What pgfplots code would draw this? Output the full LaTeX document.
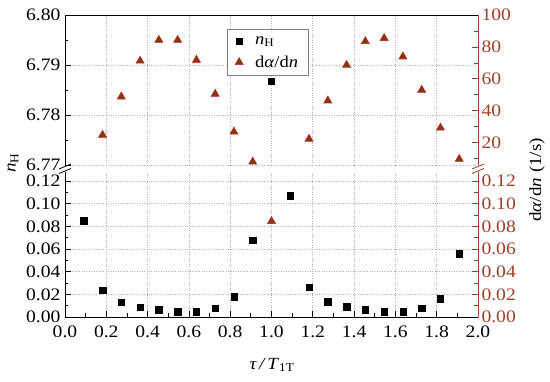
\documentclass[border=0pt]{standalone}
\usepackage{fontspec}
\setmainfont{Liberation Serif}[FakeStretch=1.12]
\usepackage{pgfplots}
\pgfplotsset{compat=1.18}
\definecolor{rax}{RGB}{160,64,40}
\definecolor{trifill}{RGB}{125,60,15}
\definecolor{triedge}{RGB}{200,30,25}
\begin{document}
\begin{tikzpicture}[x=1pt,y=1pt]
\useasboundingbox (0,0) rectangle (550,382);
\pgfplotsset{
  base/.style={scale only axis, width=413pt, xmin=0, xmax=2, axis line style={draw=none},
    tick align=inside, major tick length=6pt, minor tick length=3.5pt,
    tick style={black, line width=0.7pt},
    /pgf/number format/assume math mode=true,
    ticklabel style={font=\fontsize{17.5}{17.5}\selectfont},
    grid style={dotted, gray!60, line width=0.7pt}},
  sq/.style={only marks, mark=square*, mark size=3.2pt, black},
  tri/.style={only marks, mark=triangle*, mark size=4.6pt, mark options={draw=triedge, fill=trifill, line width=0.6pt}},
}
% ---------- top left ----------
\begin{axis}[base, name=TL, at={(65pt,217pt)}, anchor=south west, height=150pt,
  ymin=6.77, ymax=6.80, ytick={6.77,6.78,6.79,6.80}, minor ytick={6.775,6.785,6.795}, ytick pos=left,
  yticklabel style={xshift=-1pt, /pgf/number format/.cd, fixed, fixed zerofill, precision=2},
  xtick={0,0.2,0.4,0.6,0.8,1,1.2,1.4,1.6,1.8,2}, xticklabels={}, major x tick style={draw=none},
  xmajorgrids, ymajorgrids,
  legend style={at={(0.392,0.905)}, anchor=north west, draw=gray, line width=0.6pt,
    font=\fontsize{16.5}{18}\selectfont, inner xsep=8pt, inner ysep=5pt, row sep=6pt},
  legend cell align=left]
\addplot[sq] coordinates {(1.0,6.7867)};
\addlegendentry{\hspace{10pt}\textit{n}\textsubscript{H}}
\addlegendimage{tri}
\addlegendentry{\hspace{10pt}d\textit{α}/d\textit{n}\hspace{16pt}}
\end{axis}
% ---------- top right ----------
\begin{axis}[base, at={(65pt,217pt)}, anchor=south west, height=150pt,
  ymin=6, ymax=100, ytick={20,40,60,80,100}, minor ytick={10,30,50,70,90}, ytick pos=right,
  yticklabel style={text=rax}, xtick=\empty,
  major y tick style={rax}, minor y tick style={rax}]
\addplot[tri] coordinates {(0.1818,24.8) (0.2727,48.8) (0.3636,71.3) (0.4545,84.3) (0.5455,84.3)
 (0.6364,71.8) (0.7273,50.5) (0.8182,26.8) (0.9091,8.0) (1.1818,22.3) (1.2727,46.3) (1.3636,68.7)
 (1.4545,83.5) (1.5455,85.4) (1.6364,73.9) (1.7273,53.0) (1.8182,29.3) (1.9091,9.7)};
\end{axis}
% ---------- bottom left ----------
\begin{axis}[base, name=BL, at={(65pt,65pt)}, anchor=south west, height=145pt,
  ymin=0, ymax=0.128, ytick={0,0.02,0.04,0.06,0.08,0.10,0.12},
  minor ytick={0.01,0.03,0.05,0.07,0.09,0.11}, ytick pos=left,
  yticklabel style={xshift=-1pt, /pgf/number format/.cd, fixed, fixed zerofill, precision=2},
  xtick={0,0.2,0.4,0.6,0.8,1,1.2,1.4,1.6,1.8,2},
  minor xtick={0.1,0.3,0.5,0.7,0.9,1.1,1.3,1.5,1.7,1.9}, xtick pos=left,
  xticklabel style={yshift=-5pt, /pgf/number format/.cd, fixed, fixed zerofill, precision=1},
  xmajorgrids, ymajorgrids]
\addplot[sq] coordinates {(0.0909,0.0850) (0.1818,0.0236) (0.2727,0.0128) (0.3636,0.0086)
 (0.4545,0.0063) (0.5455,0.0048) (0.6364,0.0048) (0.7273,0.0077) (0.8182,0.0178) (0.9091,0.0677)
 (1.0909,0.1072) (1.1818,0.0263) (1.2727,0.0136) (1.3636,0.0090) (1.4545,0.0066) (1.5455,0.0048)
 (1.6364,0.0048) (1.7273,0.0075) (1.8182,0.0163) (1.9091,0.0560)};
\end{axis}
% ---------- bottom right ----------
\begin{axis}[base, at={(65pt,65pt)}, anchor=south west, height=145pt,
  ymin=0, ymax=0.128, ytick={0,0.02,0.04,0.06,0.08,0.10,0.12},
  minor ytick={0.01,0.03,0.05,0.07,0.09,0.11}, ytick pos=right,
  yticklabel style={text=rax, /pgf/number format/.cd, fixed, fixed zerofill, precision=2},
  xtick=\empty, major y tick style={rax}, minor y tick style={rax}]
\addplot[tri] coordinates {(1.0,0.0845)};
\end{axis}
% ---------- frame and breaks ----------
\draw[black, line width=0.9pt] (TL.south west) -- (TL.north west) -- (TL.north east);
\draw[black, line width=0.9pt] (BL.north west) -- (BL.south west) -- (BL.south east);
\draw[rax, line width=0.9pt] (TL.north east) -- (TL.south east);
\draw[rax, line width=0.9pt] (BL.north east) -- (BL.south east);
\draw[black, line width=0.8pt] (59,208.5) -- (71,213.5) (59,213) -- (71,218);
\draw[rax, line width=0.8pt] (472,208.5) -- (484,213.5) (472,213) -- (484,218);
% ---------- labels ----------
\node[rotate=90, font=\fontsize{17}{17}\selectfont] at (13,219) {\textit{n}\textsubscript{H}};
\node[rotate=90, font=\fontsize{17}{17}\selectfont] at (537,202) {d\textit{α}/d\textit{n} (1/s)};
\node[font=\fontsize{17}{17}\selectfont] at (272,17) {\textit{τ\,/\,T}\textsubscript{1T}};
\end{tikzpicture}
\end{document}
